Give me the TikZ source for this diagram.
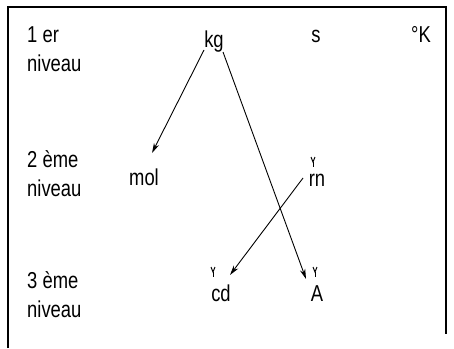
\documentclass[tikz,border=0pt]{standalone}
\usepackage{fontspec}
\setmainfont[FakeStretch=0.8]{Liberation Sans}
\usetikzlibrary{arrows.meta}
\begin{document}
\begin{tikzpicture}[x=1pt,y=-1pt,
  lbl/.style={inner sep=0pt,anchor=base west,font=\fontsize{23}{23}\selectfont},
  unit/.style={inner sep=0pt,anchor=base,font=\fontsize{23}{23}\selectfont},
  arr/.style={line width=0.9pt,-{Stealth[length=10pt,width=5.5pt]}},
  frame/.style={line width=2pt},
  tick/.style={line width=1pt}]
\useasboundingbox (0,0) rectangle (454,348);
\draw[frame] (8,348) -- (8,7) -- (446,7) -- (446,334);
% level labels
\node[lbl] (l1a) at (27,42) {1 er};
\node[lbl] (l1b) at (27,71) {niveau};
\node[lbl] (l2a) at (27,167) {2 ème};
\node[lbl] (l2b) at (27,196) {niveau};
\node[lbl] (l3a) at (27,288) {3 ème};
\node[lbl] (l3b) at (27,317) {niveau};
% units
\node[unit] (kg) at (214,47) {kg};
\node[unit] (s) at (316,42) {s};
\node[unit] (K) at (421,42) {°K};
\node[unit] (mol) at (144,185) {mol};
\node[unit] (rn) at (317,186) {rn};
\node[unit] (cd) at (221,301) {cd};
\node[unit] (A) at (317,301) {A};
% small marks
\foreach \n/\mx/\my in {rn/313/157, cd/213/267, A/315/267}{
  \draw[tick] (\mx-2,\my) -- (\mx,\my+5) -- (\mx+2,\my);
  \draw[tick] (\mx,\my+5) -- (\mx,\my+10);
}
% connectors
\coordinate (kgL) at (204,50);
\coordinate (kgR) at (223,52);
\coordinate (molT) at (152,153);
\coordinate (AT) at (306,279);
\coordinate (rnL) at (303,178);
\coordinate (cdT) at (230,275);
\draw[arr] (kgL) -- (molT);
\draw[arr] (kgR) -- (AT);
\draw[arr] (rnL) -- (cdT);
\end{tikzpicture}
\end{document}
